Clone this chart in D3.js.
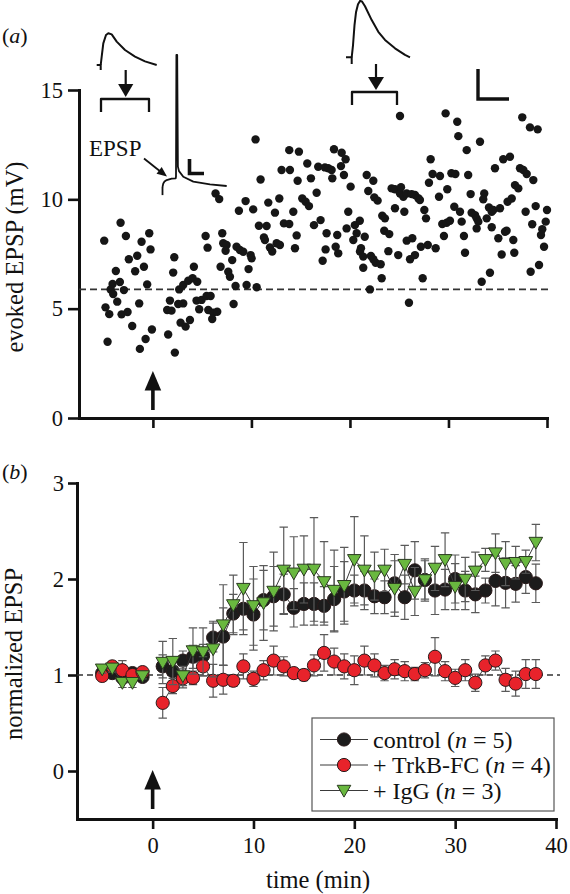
<!DOCTYPE html>
<html><head><meta charset="utf-8">
<script src="https://cdn.jsdelivr.net/npm/d3@7"></script>
<style>html,body{margin:0;padding:0;background:#fff}</style>
</head><body>
<svg id="c" width="570" height="894" xmlns="http://www.w3.org/2000/svg"></svg>
<script>
// ---------------- DATA ----------------
// Panel (a): evoked EPSP scatter (time in min, EPSP in mV)
const scatterTime = [
-4.94,-3.28,-2.74,-1.15,-0.37,-0.24,-2.44,-1.59,-0.91,-1.80,-3.76,-4.09,-3.35,-4.29,-2.94,-4.03,-0.58,-1.39,-3.62,-4.81,-4.43,-3.18,-2.57,-2.10,-4.60,-1.32,-0.74,-0.10,
2.17,2.06,1.45,1.89,1.73,1.55,2.23,2.67,3.08,2.57,2.81,3.32,3.76,3.08,3.59,4.16,4.03,4.50,4.43,4.70,4.94,5.45,5.86,5.62,6.12,6.53,6.02,5.35,5.55,6.36,6.73,7.04,7.14,7.48,7.38,6.87,7.65,7.82,8.05,8.39,8.19,8.49,8.83,9.17,9.92,10.02,9.71,9.51,10.53,8.73,9.41,10.18,10.42,10.93,10.76,11.54,11.27,11.37,11.71,12.39,12.83,11.88,12.11,12.56,12.89,13.30,
13.84,13.06,13.91,13.84,14.82,15.67,14.69,16.04,16.62,15.16,15.50,15.84,14.25,14.59,14.42,17.02,16.35,17.63,17.23,17.53,16.78,17.46,17.80,18.38,19.16,19.56,19.09,18.14,18.21,19.39,20.07,19.83,19.66,18.71,18.55,18.81,20.50,20.68,20.34,21.00,21.50,21.70,22.37,21.86,22.47,22.81,23.28,23.55,23.48,23.99,21.12,21.02,21.35,22.13,22.37,22.61,23.12,21.35,23.22,22.03,23.90,24.23,24.57,25.08,25.42,25.18,25.76,26.26,26.60,26.94,27.10,24.57,25.52,25.08,24.90,25.76,26.33,26.10,26.60,27.38,25.99,27.20,27.90,27.55,27.72,28.70,28.02,28.19,28.39,29.14,29.04,29.88,29.37,29.82,30.15,29.54,29.71,30.89,31.00,31.85,33.20,30.30,30.70,30.59,31.17,31.34,31.57,31.68,32.00,32.25,32.35,32.69,32.86,33.03,32.86,33.37,34.21,33.63,33.53,33.88,34.11,34.39,34.39,34.55,35.23,35.06,35.40,34.72,35.56,36.24,35.74,35.90,36.00,36.42,36.58,36.68,36.75,37.09,37.26,37.60,37.94,38.61,37.49,38.27,39.05,37.83,38.85,40.00,38.50,39.87,39.52,39.39,39.70,38.34,39.19];
const scatterEPSP = [
8.11,8.93,8.32,8.06,8.45,7.71,7.26,7.42,6.92,6.71,6.72,6.13,6.22,5.88,5.85,5.67,6.11,5.24,5.32,5.06,4.75,4.74,4.85,4.21,3.49,3.16,3.61,4.05,
7.35,6.65,4.94,4.91,5.37,3.82,2.99,5.88,5.24,5.21,4.36,4.18,4.48,6.08,6.28,6.92,6.39,6.23,5.37,4.97,5.40,5.58,5.58,4.94,4.82,4.86,4.53,8.32,7.79,10.27,10.01,8.45,7.99,7.91,7.65,6.92,6.69,6.46,7.22,6.04,5.21,7.83,7.68,7.60,7.45,7.30,6.81,6.08,5.98,9.48,9.92,9.54,12.74,10.91,8.79,8.78,8.26,8.14,9.85,9.39,10.04,7.80,7.61,7.99,7.91,8.90,
8.87,11.34,11.34,12.25,12.18,11.64,10.85,10.96,10.30,10.04,9.89,9.69,9.43,8.35,7.76,9.05,8.82,8.45,7.19,7.71,11.49,11.46,11.42,12.29,12.13,11.83,11.52,11.34,10.96,11.11,10.58,9.43,8.67,8.37,7.83,7.53,8.82,8.45,8.14,9.02,8.29,11.11,10.85,10.38,10.09,9.94,9.25,9.13,8.56,8.41,7.76,7.61,7.38,7.41,7.26,7.10,7.03,6.87,6.39,5.88,7.63,10.50,10.46,10.27,10.12,10.55,10.27,10.24,10.20,10.05,9.97,9.59,9.43,13.81,7.45,8.11,8.22,7.26,7.45,6.39,5.27,7.83,7.91,9.51,9.13,7.76,10.76,11.83,11.16,11.07,10.12,10.46,8.87,8.93,9.02,8.32,13.93,13.55,12.89,12.25,12.63,11.19,11.16,9.66,9.43,8.98,8.32,7.56,11.11,10.24,9.39,9.28,9.13,8.98,8.67,6.23,6.64,10.27,10.00,9.13,9.63,9.43,8.72,9.51,9.59,8.22,7.48,11.42,11.83,11.95,8.52,8.56,9.89,10.04,8.14,7.56,10.65,10.50,11.42,11.34,11.16,10.88,13.75,13.29,13.20,9.43,9.69,9.51,8.86,8.98,8.63,8.37,7.83,6.69,7.00];
const baselineEPSP = 5.88;

// Panel (b): normalized EPSP, mean and SEM
const timeB = [-5,-4,-3,-2,-1,1,2,3,4,5,6,7,8,9,10,11,12,13,14,15,16,17,18,19,20,21,22,23,24,25,26,27,28,29,30,31,32,33,34,35,36,37,38];
const controlMean = [1.02,1.02,0.97,1.02,0.98,
 1.09,1.04,1.15,1.19,1.20,1.39,1.40,1.64,1.69,1.63,1.78,1.82,1.84,1.70,1.74,1.74,1.72,1.79,1.87,1.88,
 1.88,1.82,1.81,1.955,1.81,2.09,1.99,1.88,1.89,2.00,1.88,1.84,1.88,1.98,1.96,1.95,2.02,1.955];
const controlErr = [0.04,0.04,0.05,0.04,0.03,
 0.12,0.10,0.10,0.12,0.12,0.15,0.30,0.20,0.22,0.37,0.31,0.31,0.21,0.20,0.22,0.22,0.20,0.34,0.31,0.16,
 0.20,0.18,0.17,0.30,0.23,0.30,0.20,0.25,0.21,0.25,0.20,0.19,0.13,0.26,0.26,0.19,0.17,0.20];
const trkbMean = [0.99,1.09,1.05,1.00,1.03,
 0.71,0.885,0.965,0.97,1.09,0.94,0.95,0.94,1.09,0.96,1.05,1.15,1.09,1.02,1.00,1.10,1.23,1.14,1.09,1.05,
 1.15,1.10,1.02,1.06,1.04,1.01,1.05,1.19,1.04,0.97,1.05,0.92,1.10,1.15,0.95,0.91,1.01,1.01];
const trkbErr = [0.04,0.05,0.10,0.03,0.03,
 0.16,0.08,0.10,0.07,0.10,0.17,0.15,0.06,0.13,0.08,0.10,0.15,0.10,0.05,0.06,0.11,0.19,0.14,0.13,0.15,
 0.15,0.12,0.08,0.10,0.10,0.07,0.08,0.20,0.10,0.09,0.11,0.09,0.10,0.10,0.12,0.13,0.15,0.15];
const iggMean = [1.06,1.07,0.92,0.92,0.99,
 1.13,1.14,0.99,1.25,1.24,1.27,1.52,1.73,1.90,1.72,1.75,1.87,2.09,2.06,2.10,2.10,1.97,1.88,1.93,2.20,
 2.09,2.03,2.09,1.90,2.15,1.87,1.99,2.11,2.20,1.92,1.995,2.08,2.20,2.27,2.16,2.17,2.18,2.38];
const iggErr = [0.04,0.04,0.05,0.05,0.03,
 0.22,0.24,0.10,0.24,0.25,0.29,0.42,0.31,0.48,0.41,0.39,0.41,0.45,0.38,0.35,0.54,0.42,0.42,0.40,0.45,
 0.36,0.25,0.22,0.29,0.20,0.25,0.22,0.23,0.28,0.24,0.23,0.20,0.12,0.20,0.23,0.17,0.12,0.19];

const seriesLabels = [["control (", "n", " = 5)"], ["+ TrkB-FC (", "n", " = 4)"], ["+ IgG (", "n", " = 3)"]];
const xTicks = [0,10,20,30,40];
const yTicksA = [0,5,10,15];
const yTicksB = [0,1,2,3];

// Inset traces (ms, mV)
const traceBeforeMs = [0,1,2.6,5.3,7.6,11,16,24.3,34.3,44.3,56];
const traceBeforeMV = [0,2.8,7.2,10,10.6,10.2,7.8,5,2.8,1.2,0];
const traceAfterMs = [0,1.3,2.8,4.3,6.3,8.3,10.3,13.3,20,26.6,33.3,43.3,53.3,58.3];
const traceAfterMV = [0,4,10.7,15,17.7,18.8,18.6,17,12.4,8.5,5.8,3,0.8,0];
const spikeMs = [0,0.8,2,4.2,9.2,13.2,13.5,13.9,14.7,15.4,16.5,20.8,30.8,47.5,64.2];
const spikeMV = [0,1.2,1.8,2.3,2.8,2.9,3.5,44,44,6.8,5.3,3.4,1.8,0.9,0.33];

// ---------------- DRAW ----------------
const FONT = "'Liberation Serif','Times New Roman',serif";
const svg = d3.select("#c");
svg.append("rect").attr("width",570).attr("height",894).attr("fill","#fff");

// scales
const xA = d3.scaleLinear([-7.5,40],[79,547]);
const yA = d3.scaleLinear([0,15],[418,90]);
const xB = d3.scaleLinear([-7.5,40],[77,556]);
const yB = d3.scaleLinear([-0.5,3],[819,483]);

function styleAxis(g, fs){
  g.select(".domain").attr("stroke","#111").attr("stroke-width",3).attr("stroke-linecap","square");
  g.selectAll(".tick line").attr("stroke","#111").attr("stroke-width",2.6);
  g.selectAll(".tick text").attr("font-family",FONT).attr("font-size",fs).attr("fill","#111");
}
const intFmt = d3.format("d");

// ---- Panel (a)
svg.append("g").attr("transform",`translate(0,${yA(0)})`)
  .call(d3.axisBottom(xA).tickValues(xTicks).tickSize(10).tickSizeOuter(0).tickFormat(""))
  .call(g=>styleAxis(g,22));
svg.append("g").attr("transform",`translate(${xA(-7.5)},0)`)
  .call(d3.axisLeft(yA).tickValues(yTicksA).tickSize(11).tickPadding(5).tickSizeOuter(0).tickFormat(intFmt))
  .call(g=>styleAxis(g,22.5));

svg.append("line").attr("x1",xA(-7.5)).attr("x2",xA(40.5)).attr("y1",yA(baselineEPSP)).attr("y2",yA(baselineEPSP))
  .attr("stroke","#333").attr("stroke-width",1.8).attr("stroke-dasharray","7,4");

svg.append("g").selectAll("circle").data(scatterTime.map((t,i)=>[t,scatterEPSP[i]]))
  .join("circle").attr("cx",d=>xA(d[0])).attr("cy",d=>yA(d[1])).attr("r",4.2).attr("fill","#161616");

// up arrows
function upArrow(x, tip, bottom){
  svg.append("line").attr("x1",x).attr("x2",x).attr("y1",tip+17).attr("y2",bottom).attr("stroke","#111").attr("stroke-width",3.6);
  svg.append("path").attr("d",`M${x-8.3},${tip+19.5}L${x+8.3},${tip+19.5}L${x},${tip}Z`).attr("fill","#111");
}
upArrow(xA(0),371,410);

// insets
const lineGen = d3.line();
function trace(ms, mv, ox, oy, kx, ky){
  const sx = d3.scaleLinear([0,1],[ox,ox+kx]);
  const sy = d3.scaleLinear([0,1],[oy,oy-ky]);
  return ms.map((t,i)=>[sx(t),sy(mv[i])]);
}
function drawPath(pts, w){
  svg.append("path").attr("d",lineGen(pts)).attr("fill","none").attr("stroke","#111").attr("stroke-width",w||2).attr("stroke-linejoin","round");
}
// before trace
drawPath(trace(traceBeforeMs,traceBeforeMV,100.7,65,1,3));
drawPath(trace([-4,0,0],[0,0,-1.7],100.7,65,1,3));
// after trace
drawPath(trace(traceAfterMs,traceAfterMV,351.7,57.3,1,3));
drawPath(trace([-5.7,0,0],[0,0,-2.2],351.7,57.3,1,3));
// spike trace
drawPath(trace(spikeMs,spikeMV,162.5,187,1,3), 1.8);
drawPath(trace([0,0],[0,-2.7],162.5,187,1,3), 1.8);

// brackets
drawPath([[101,112],[101,99],[149,99],[149,112]],2.3);
drawPath([[352,105],[352,92],[397,92],[397,105]],2.3);
// down arrows
function downArrow(x, top, tip, hw){
  svg.append("line").attr("x1",x).attr("x2",x).attr("y1",top).attr("y2",tip-10).attr("stroke","#111").attr("stroke-width",2.2);
  svg.append("path").attr("d",`M${x-hw},${tip-13}L${x+hw},${tip-13}L${x},${tip}Z`).attr("fill","#111");
}
downArrow(125.7,70,97,7.6);
downArrow(376,64,90,8);
// scale bars
svg.append("path").attr("d","M478,69V99H509").attr("fill","none").attr("stroke","#111").attr("stroke-width",3.4);
svg.append("path").attr("d","M189.5,159V173.5H204").attr("fill","none").attr("stroke","#111").attr("stroke-width",3.6);
// EPSP label + arrow
svg.append("text").attr("x",89).attr("y",156).attr("font-family",FONT).attr("font-size",23).attr("fill","#111").text("EPSP");
svg.append("line").attr("x1",144).attr("y1",158.5).attr("x2",161).attr("y2",172).attr("stroke","#111").attr("stroke-width",1.8);
{
  const tx=167, ty=176.5, dx=0.787, dy=0.616, L=10, W=4.2;
  const bx=tx-dx*L, by=ty-dy*L;
  svg.append("path").attr("d",`M${tx},${ty}L${bx-dy*W},${by+dx*W}L${bx+dy*W},${by-dx*W}Z`).attr("fill","#111");
}

// labels
svg.append("text").attr("x",2).attr("y",43).attr("font-family",FONT).attr("font-size",22).attr("fill","#111")
  .call(t=>{t.append("tspan").text("(");t.append("tspan").attr("font-style","italic").text("a");t.append("tspan").text(")");});
svg.append("text").attr("transform","translate(23,257) rotate(-90)").attr("text-anchor","middle")
  .attr("font-family",FONT).attr("font-size",24.5).attr("fill","#111").text("evoked EPSP (mV)");

// ---- Panel (b)
svg.append("text").attr("x",2).attr("y",479).attr("font-family",FONT).attr("font-size",22).attr("fill","#111")
  .call(t=>{t.append("tspan").text("(");t.append("tspan").attr("font-style","italic").text("b");t.append("tspan").text(")");});

svg.append("g").attr("transform",`translate(0,${yB(-0.5)})`)
  .call(d3.axisBottom(xB).tickValues(xTicks).tickSize(10).tickPadding(8).tickSizeOuter(0).tickFormat(intFmt))
  .call(g=>styleAxis(g,22.5));
svg.append("g").attr("transform",`translate(${xB(-7.5)},0)`)
  .call(d3.axisLeft(yB).tickValues(yTicksB).tickSize(9).tickPadding(4).tickSizeOuter(0).tickFormat(intFmt))
  .call(g=>styleAxis(g,22.5));

svg.append("line").attr("x1",xB(-7.5)).attr("x2",xB(40.4)).attr("y1",yB(1)).attr("y2",yB(1))
  .attr("stroke","#333").attr("stroke-width",1.6).attr("stroke-dasharray","6,4");

upArrow(xB(0),770,809);

svg.append("text").attr("transform","translate(22,654) rotate(-90)").attr("text-anchor","middle")
  .attr("font-family",FONT).attr("font-size",24.5).attr("fill","#111").text("normalized EPSP");
svg.append("text").attr("x",318).attr("y",888).attr("text-anchor","middle")
  .attr("font-family",FONT).attr("font-size",24.5).attr("fill","#111").text("time (min)");

const series = [
  {mean:controlMean, err:controlErr, fill:"#1c1c1c", shape:"circle"},
  {mean:trkbMean, err:trkbErr, fill:"#e8232b", shape:"circle"},
  {mean:iggMean, err:iggErr, fill:"#69b83f", shape:"tri"}
];
const triPath = "M-6.8,-5.2L6.8,-5.2L0,6.6Z";
series.forEach(s=>{
  const pts = timeB.map((t,i)=>({t, m:s.mean[i], e:s.err[i]}));
  const g = svg.append("g");
  // error bars
  pts.forEach(p=>{
    const x = xB(p.t), y1 = yB(p.m+p.e), y2 = yB(p.m-p.e);
    g.append("path").attr("d",`M${x},${y1}V${y2}M${x-4.2},${y1}H${x+4.2}M${x-4.2},${y2}H${x+4.2}`)
      .attr("stroke","#5a5a5a").attr("stroke-width",1.2).attr("fill","none");
  });
  // connecting lines, broken at the stimulus
  [pts.filter(p=>p.t<0), pts.filter(p=>p.t>0)].forEach(seg=>{
    g.append("path").attr("d",d3.line().x(p=>xB(p.t)).y(p=>yB(p.m))(seg))
      .attr("fill","none").attr("stroke","#3a3a3a").attr("stroke-width",1);
  });
  // markers
  pts.forEach(p=>{
    if(s.shape==="circle"){
      g.append("circle").attr("cx",xB(p.t)).attr("cy",yB(p.m)).attr("r",6.6)
        .attr("fill",s.fill).attr("stroke","#2a1a1a").attr("stroke-width",1);
    } else {
      g.append("path").attr("d",triPath).attr("transform",`translate(${xB(p.t)},${yB(p.m)})`)
        .attr("fill",s.fill).attr("stroke","#2a3a20").attr("stroke-width",1);
    }
  });
});

// legend
const lg = svg.append("g");
lg.append("rect").attr("x",312).attr("y",718).attr("width",242).attr("height",93)
  .attr("fill","#fff").attr("stroke","#555").attr("stroke-width",1.2);
const rowY = [739.5,765,790.5];
series.forEach((s,i)=>{
  const y = rowY[i];
  lg.append("line").attr("x1",320).attr("x2",368).attr("y1",y).attr("y2",y).attr("stroke","#3a3a3a").attr("stroke-width",1);
  if(s.shape==="circle"){
    lg.append("circle").attr("cx",344).attr("cy",y).attr("r",6.6).attr("fill",s.fill).attr("stroke","#2a1a1a").attr("stroke-width",1);
  } else {
    lg.append("path").attr("d",triPath).attr("transform",`translate(344,${y})`).attr("fill",s.fill).attr("stroke","#2a3a20").attr("stroke-width",1);
  }
  const tx = lg.append("text").attr("x",373).attr("y",y+8).attr("font-family",FONT).attr("font-size",24).attr("fill","#111");
  tx.append("tspan").text(seriesLabels[i][0]);
  tx.append("tspan").attr("font-style","italic").text(seriesLabels[i][1]);
  tx.append("tspan").text(seriesLabels[i][2]);
});
</script>
</body></html>
